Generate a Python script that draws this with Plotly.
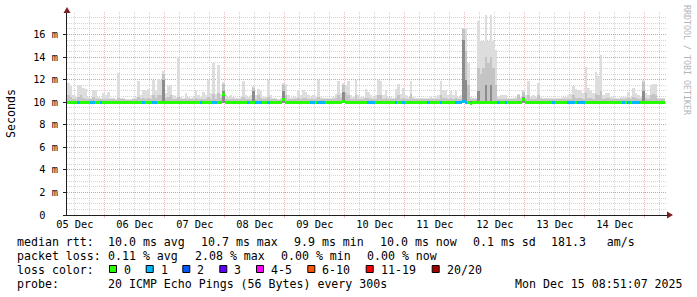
import plotly.graph_objects as go
import pandas as pd

# ---------------- data ----------------
bin_start = "2025-12-05 09:00"          # first hourly bin
x_range = ["2025-12-05 08:51:07", "2025-12-15 08:51:07"]

day_ticks = ["2025-12-%02d 12:00" % d for d in range(5, 15)]
day_labels = ["%02d Dec" % d for d in range(5, 15)]

y_tickvals = [0, 2, 4, 6, 8, 10, 12, 14, 16]
y_ticktext = ["0\u00a0\u00a0", "2 m", "4 m", "6 m", "8 m", "10 m", "12 m", "14 m", "16 m"]

# highest ping per bin (ms)
smoke_max = [
    11.7, 11.4, 10.6, 10.5, 11.5, 11.5, 11.3, 11.2, 10.5, 10.4,
    11.1, 11.1, 10.5, 10.4, 10.8, 10.6, 10.9, 10.4, 10.4, 10.3,
    12.6, 10.4, 10.4, 10.3, 10.3, 10.3, 10.4, 10.5, 11.9, 10.6,
    11.1, 11.0, 11.2, 10.6, 12.0, 11.0, 12.1, 12.0, 12.8, 10.8,
    11.4, 11.5, 10.6, 10.5, 14.0, 10.5, 10.4, 10.8, 10.5, 10.4,
    10.5, 11.1, 10.6, 10.5, 10.9, 10.6, 12.0, 10.8, 13.5, 10.7,
    13.3, 10.7, 11.8, 10.6, 10.5, 10.6, 10.5, 10.4, 10.4, 10.5,
    11.9, 10.6, 10.5, 10.6, 11.4, 10.6, 11.2, 11.0, 10.5, 10.5,
    12.0, 10.6, 10.4, 10.4, 10.3, 10.4, 11.7, 11.6, 10.6, 10.4,
    10.5, 10.5, 11.1, 10.6, 11.1, 10.9, 10.6, 10.5, 10.6, 10.5,
    12.0, 10.5, 10.4, 10.4, 10.4, 10.4, 10.5, 10.7, 11.9, 10.8,
    11.7, 11.5, 11.9, 10.6, 10.5, 12.0, 10.6, 10.5, 10.5, 11.2,
    10.9, 10.6, 10.5, 10.6, 12.0, 11.9, 10.6, 11.1, 10.5, 10.5,
    10.4, 11.2, 11.6, 10.7, 11.3, 10.6, 10.5, 11.9, 10.5, 10.4,
    10.4, 10.4, 10.4, 10.4, 10.4, 10.5, 10.4, 10.5, 10.6, 11.9,
    11.1, 11.1, 10.6, 11.0, 10.6, 11.0, 10.5, 10.6, 16.6, 16.6,
    13.5, 10.5, 10.4, 10.4, 17.2, 15.4, 15.4, 17.7, 15.4, 17.7,
    15.4, 14.6, 10.5, 10.6, 10.6, 10.6, 10.4, 10.4, 10.4, 10.5,
    10.7, 10.5, 11.1, 10.6, 11.9, 10.5, 10.6, 10.5, 11.7, 10.5,
    10.4, 10.4, 10.4, 10.4, 10.4, 10.4, 10.4, 10.4, 10.5, 10.5,
    10.6, 10.7, 11.4, 11.2, 11.1, 11.1, 10.8, 13.1, 11.3, 11.0,
    10.8, 12.7, 12.3, 14.2, 10.6, 10.8, 10.8, 10.5, 10.5, 10.4,
    10.4, 10.5, 10.5, 10.5, 10.9, 10.5, 11.3, 10.8, 10.6, 10.5,
    12.0, 10.8, 10.6, 11.5, 11.6, 11.6, 10.4, 10.4, 10.4,
]

# upper edge of the middle smoke band (ms)
smoke_mid = [
    10.6, 10.5, 10.3, 10.3, 10.5, 10.6, 10.4, 10.3, 10.3, 10.3,
    10.5, 10.3, 10.3, 10.3, 10.3, 10.3, 10.3, 10.3, 10.3, 10.2,
    10.4, 10.3, 10.3, 10.2, 10.2, 10.2, 10.3, 10.3, 10.5, 10.3,
    10.4, 10.3, 10.4, 10.3, 10.6, 10.4, 10.6, 10.6, 12.5, 10.4,
    10.5, 10.6, 10.3, 10.3, 10.5, 10.3, 10.3, 10.3, 10.3, 10.3,
    10.3, 10.4, 10.3, 10.3, 10.3, 10.3, 10.5, 10.3, 10.7, 10.3,
    10.8, 10.4, 11.6, 10.3, 10.3, 10.3, 10.3, 10.3, 10.3, 10.3,
    10.5, 10.3, 10.3, 10.3, 11.3, 10.3, 10.6, 10.4, 10.3, 10.3,
    10.5, 10.3, 10.3, 10.3, 10.2, 10.3, 11.5, 10.6, 10.3, 10.3,
    10.3, 10.3, 10.4, 10.3, 10.4, 10.4, 10.3, 10.3, 10.3, 10.3,
    10.5, 10.3, 10.3, 10.3, 10.3, 10.3, 10.3, 10.4, 10.6, 10.4,
    11.5, 10.8, 10.6, 10.3, 10.3, 10.6, 10.3, 10.3, 10.3, 10.4,
    10.4, 10.3, 10.3, 10.3, 10.6, 10.6, 10.3, 10.4, 10.3, 10.3,
    10.3, 10.4, 10.6, 10.3, 10.4, 10.3, 10.3, 10.7, 10.3, 10.3,
    10.3, 10.3, 10.3, 10.3, 10.3, 10.3, 10.3, 10.3, 10.3, 10.6,
    10.4, 10.4, 10.3, 10.4, 10.3, 10.4, 10.3, 10.3, 16.5, 14.5,
    11.5, 10.3, 10.3, 10.3, 13.0, 12.5, 13.0, 14.0, 13.5, 14.0,
    13.0, 11.5, 10.3, 10.3, 10.3, 10.3, 10.3, 10.3, 10.3, 10.3,
    10.6, 10.3, 10.9, 10.3, 10.6, 10.3, 10.3, 10.3, 10.6, 10.3,
    10.3, 10.3, 10.3, 10.3, 10.3, 10.3, 10.3, 10.3, 10.3, 10.3,
    10.3, 10.3, 10.6, 10.4, 10.4, 10.4, 10.3, 10.8, 10.4, 10.4,
    10.3, 10.7, 10.6, 11.0, 10.3, 10.4, 10.4, 10.3, 10.3, 10.3,
    10.3, 10.3, 10.3, 10.3, 10.4, 10.3, 10.5, 10.4, 10.3, 10.3,
    11.8, 10.4, 10.3, 10.6, 10.7, 10.6, 10.3, 10.3, 10.3,
]

# upper edge of the dark inner smoke band (ms)
smoke_inner = [
    10.1, 10.1, 10.1, 10.1, 10.1, 10.1, 10.1, 10.1, 10.1, 10.1,
    10.1, 10.1, 10.1, 10.1, 10.1, 10.1, 10.1, 10.1, 10.1, 10.1,
    10.1, 10.1, 10.1, 10.1, 10.1, 10.1, 10.1, 10.1, 10.1, 10.1,
    10.1, 10.1, 10.1, 10.1, 10.1, 10.1, 10.1, 10.1, 12.0, 10.1,
    10.1, 10.1, 10.1, 10.1, 10.1, 10.1, 10.1, 10.1, 10.1, 10.1,
    10.1, 10.1, 10.1, 10.1, 10.1, 10.1, 10.1, 10.1, 10.1, 10.1,
    10.1, 10.1, 11.0, 10.1, 10.1, 10.1, 10.1, 10.1, 10.1, 10.1,
    10.1, 10.1, 10.1, 10.1, 11.0, 10.1, 10.1, 10.1, 10.1, 10.1,
    10.1, 10.1, 10.1, 10.1, 10.1, 10.1, 11.0, 10.1, 10.1, 10.1,
    10.1, 10.1, 10.1, 10.1, 10.1, 10.1, 10.1, 10.1, 10.1, 10.1,
    10.1, 10.1, 10.1, 10.1, 10.1, 10.1, 10.1, 10.1, 10.1, 10.1,
    10.9, 10.1, 10.1, 10.1, 10.1, 10.1, 10.1, 10.1, 10.1, 10.1,
    10.1, 10.1, 10.1, 10.1, 10.1, 10.1, 10.1, 10.1, 10.1, 10.1,
    10.1, 10.1, 10.1, 10.1, 10.1, 10.1, 10.1, 10.1, 10.1, 10.1,
    10.1, 10.1, 10.1, 10.1, 10.1, 10.1, 10.1, 10.1, 10.1, 10.1,
    10.1, 10.1, 10.1, 10.1, 10.1, 10.1, 10.1, 10.1, 15.5, 12.0,
    10.1, 10.1, 10.1, 10.1, 11.0, 10.1, 10.1, 11.5, 10.1, 11.5,
    10.1, 10.1, 10.1, 10.1, 10.1, 10.1, 10.1, 10.1, 10.1, 10.1,
    10.1, 10.1, 10.5, 10.1, 10.1, 10.1, 10.1, 10.1, 10.1, 10.1,
    10.1, 10.1, 10.1, 10.1, 10.1, 10.1, 10.1, 10.1, 10.1, 10.1,
    10.1, 10.1, 10.1, 10.1, 10.1, 10.1, 10.1, 10.1, 10.1, 10.1,
    10.1, 10.1, 10.1, 10.1, 10.1, 10.1, 10.1, 10.1, 10.1, 10.1,
    10.1, 10.1, 10.1, 10.1, 10.1, 10.1, 10.1, 10.1, 10.1, 10.1,
    11.0, 10.1, 10.1, 10.1, 10.1, 10.1, 10.1, 10.1, 10.1,
]

# lowest ping per bin (ms)
smoke_min = [
    9.9, 9.9, 9.9, 9.9, 9.9, 9.9, 9.9, 9.9, 9.9, 9.9,
    9.9, 9.9, 9.9, 9.9, 9.9, 9.9, 9.9, 9.9, 9.9, 9.9,
    9.9, 9.9, 9.9, 9.9, 9.9, 9.9, 9.9, 9.9, 9.9, 9.9,
    9.9, 9.9, 9.9, 9.9, 9.9, 9.9, 9.9, 9.9, 9.9, 9.9,
    9.9, 9.9, 9.9, 9.9, 9.9, 9.9, 9.9, 9.9, 9.9, 9.9,
    9.9, 9.9, 9.9, 9.9, 9.9, 9.9, 9.9, 9.9, 9.9, 9.9,
    9.9, 9.9, 9.9, 9.9, 9.9, 9.9, 9.9, 9.9, 9.9, 9.9,
    9.9, 9.9, 9.9, 9.9, 9.9, 9.9, 9.9, 9.9, 9.9, 9.9,
    9.9, 9.9, 9.9, 9.9, 9.9, 9.9, 9.9, 9.9, 9.9, 9.9,
    9.9, 9.9, 9.9, 9.9, 9.9, 9.9, 9.9, 9.9, 9.9, 9.9,
    9.9, 9.9, 9.9, 9.9, 9.9, 9.9, 9.9, 9.9, 9.9, 9.9,
    9.9, 9.9, 9.9, 9.9, 9.9, 9.9, 9.9, 9.9, 9.9, 9.9,
    9.9, 9.9, 9.9, 9.9, 9.9, 9.9, 9.9, 9.9, 9.9, 9.9,
    9.9, 9.9, 9.9, 9.9, 9.9, 9.9, 9.9, 9.9, 9.9, 9.9,
    9.9, 9.9, 9.9, 9.9, 9.9, 9.9, 9.9, 9.9, 9.9, 9.9,
    9.9, 9.9, 9.9, 9.9, 9.9, 9.9, 9.9, 9.9, 9.9, 9.9,
    9.9, 9.8, 9.9, 9.9, 9.9, 9.9, 9.9, 9.9, 9.9, 9.9,
    9.9, 9.9, 9.9, 9.9, 9.9, 9.9, 9.9, 9.9, 9.9, 9.9,
    9.9, 9.9, 9.9, 9.9, 9.9, 9.9, 9.9, 9.9, 9.9, 9.9,
    9.9, 9.9, 9.9, 9.9, 9.9, 9.9, 9.9, 9.9, 9.9, 9.9,
    9.9, 9.9, 9.9, 9.9, 9.9, 9.9, 9.9, 9.9, 9.9, 9.9,
    9.9, 9.9, 9.9, 9.9, 9.9, 9.9, 9.9, 9.9, 9.9, 9.9,
    9.9, 9.9, 9.9, 9.9, 9.9, 9.9, 9.9, 9.9, 9.9, 9.9,
    9.9, 9.9, 9.9, 9.9, 9.9, 9.9, 9.9, 9.9, 9.9,
]

median = [
    10.0, 10.0, 10.0, 10.0, 10.0, 10.0, 10.0, 10.0, 10.0, 10.0,
    10.0, 10.0, 10.0, 10.0, 10.0, 10.0, 10.0, 10.0, 10.0, 10.0,
    10.0, 10.0, 10.0, 10.0, 10.0, 10.0, 10.0, 10.0, 10.0, 10.0,
    10.0, 10.0, 10.0, 10.0, 10.0, 10.0, 10.0, 10.0, 10.0, 10.0,
    10.0, 10.0, 10.0, 10.0, 10.0, 10.0, 10.0, 10.0, 10.0, 10.0,
    10.0, 10.0, 10.0, 10.0, 10.0, 10.0, 10.0, 10.0, 10.0, 10.0,
    10.0, 10.0, 10.7, 10.0, 10.0, 10.0, 10.0, 10.0, 10.0, 10.0,
    10.0, 10.0, 10.0, 10.0, 10.0, 10.0, 10.0, 10.0, 10.0, 10.0,
    10.0, 10.0, 10.0, 10.0, 10.0, 10.0, 10.25, 10.0, 10.0, 10.0,
    10.0, 10.0, 10.0, 10.0, 10.0, 10.0, 10.0, 10.0, 10.0, 10.0,
    10.0, 10.0, 10.0, 10.0, 10.0, 10.0, 10.0, 10.0, 10.0, 10.0,
    10.1, 10.0, 10.0, 10.0, 10.0, 10.0, 10.0, 10.0, 10.0, 10.0,
    10.0, 10.0, 10.0, 10.0, 10.0, 10.0, 10.0, 10.0, 10.0, 10.0,
    10.0, 10.0, 10.0, 10.0, 10.0, 10.0, 10.0, 10.0, 10.0, 10.0,
    10.0, 10.0, 10.0, 10.0, 10.0, 10.0, 10.0, 10.0, 10.0, 10.0,
    10.0, 10.0, 10.0, 10.0, 10.0, 10.0, 10.0, 10.0, 10.05, 10.0,
    10.0, 9.9, 10.0, 10.0, 10.0, 10.0, 10.0, 10.0, 10.0, 10.0,
    10.0, 10.0, 10.0, 10.0, 10.0, 10.0, 10.0, 10.0, 10.0, 10.0,
    10.0, 10.0, 10.25, 10.0, 10.0, 10.0, 10.0, 10.0, 10.0, 10.0,
    10.0, 10.0, 10.0, 10.0, 10.0, 10.0, 10.0, 10.0, 10.0, 10.0,
    10.0, 10.0, 10.0, 10.0, 10.0, 10.0, 10.0, 10.0, 10.0, 10.0,
    10.0, 10.0, 10.0, 10.0, 10.0, 10.0, 10.0, 10.0, 10.0, 10.0,
    10.0, 10.0, 10.0, 10.0, 10.0, 10.0, 10.0, 10.0, 10.0, 10.0,
    10.0, 10.0, 10.0, 10.0, 10.0, 10.0, 10.0, 10.0, 10.0,
]

# pings lost (of 20) per bin
loss = [
    0, 0, 0, 0, 1, 0, 0, 0, 0, 1,
    1, 0, 0, 1, 0, 0, 0, 0, 0, 0,
    0, 0, 0, 0, 0, 0, 0, 0, 0, 0,
    1, 0, 0, 0, 1, 1, 0, 0, 0, 0,
    0, 0, 0, 0, 0, 0, 0, 0, 0, 0,
    0, 0, 0, 1, 0, 0, 0, 0, 1, 1,
    0, 0, 0, 0, 0, 0, 0, 0, 0, 0,
    0, 0, 1, 0, 0, 1, 1, 1, 0, 0,
    1, 0, 0, 0, 0, 0, 0, 0, 0, 0,
    0, 0, 0, 0, 0, 0, 0, 1, 1, 0,
    1, 1, 1, 0, 0, 0, 0, 0, 0, 0,
    0, 0, 0, 0, 0, 0, 0, 0, 0, 0,
    1, 1, 1, 0, 0, 0, 0, 0, 0, 0,
    0, 1, 0, 0, 1, 0, 0, 0, 0, 0,
    0, 0, 0, 0, 1, 0, 0, 0, 0, 1,
    0, 0, 0, 0, 0, 1, 1, 1, 1, 1,
    0, 0, 0, 0, 0, 0, 0, 0, 0, 0,
    0, 0, 1, 0, 0, 1, 0, 0, 0, 0,
    0, 0, 0, 0, 0, 0, 0, 0, 0, 0,
    0, 0, 0, 0, 1, 0, 0, 0, 0, 0,
    1, 1, 1, 0, 1, 1, 1, 0, 0, 0,
    0, 0, 0, 0, 0, 0, 0, 0, 0, 0,
    0, 0, 1, 0, 1, 0, 1, 1, 1, 0,
    0, 0, 0, 0, 0, 0, 0, 0, 0,
]

loss_legend = ["0", "1", "2", "3", "4-5", "6-10", "11-19", "20/20"]
loss_palette = ["#26ff00", "#00b8ff", "#0059ff", "#5e00ff", "#ff00ff", "#ff5500", "#ff0000", "#a00000"]

stats_rtt = ["10.0 ms avg", "10.7 ms max", "9.9 ms min", "10.0 ms now", "0.1 ms sd", "181.3   am/s"]
stats_loss = ["0.11 % avg", "2.08 % max", "0.00 % min", "0.00 % now"]
probe_text = "20 ICMP Echo Pings (56 Bytes) every 300s"
stamp_text = "Mon Dec 15 08:51:07 2025"

# ---------------- geometry ----------------
W, H = 697, 297
PL, PR, PT, PB = 67, 667, 12, 215
MONO = "DejaVu Sans Mono"


def px(x):
    return (x - PL) / (PR - PL)


def py(y):
    return (PB - y) / (PB - PT)


n = len(smoke_max)
t0 = pd.Timestamp(bin_start)
times = [t0 + pd.Timedelta(minutes=30 + 60 * i) for i in range(n)]
bw = 3600 * 1000


def loss_index(v):
    if v <= 0:
        return 0
    if v <= 3:
        return v
    if v <= 5:
        return 4
    if v <= 10:
        return 5
    if v <= 19:
        return 6
    return 7


fig = go.Figure()


def band(lo, hi, color, axis="x"):
    fig.add_trace(go.Bar(
        x=times, base=lo, y=[h - l for l, h in zip(lo, hi)], width=bw,
        marker=dict(color=color, line=dict(width=0)), xaxis=axis, yaxis="y",
        showlegend=False, hoverinfo="skip"))


band(smoke_min, smoke_max, "#dddddd")
band(smoke_min, smoke_mid, "#c4c4c4")
band(smoke_min, smoke_inner, "#8c8c8c")

half = 0.13
fig.add_trace(go.Bar(
    x=times, base=[m - half for m in median], y=[2 * half] * n, width=bw,
    marker=dict(color=[loss_palette[loss_index(v)] for v in loss], line=dict(width=0)),
    xaxis="x2", yaxis="y", showlegend=False, hoverinfo="skip"))

grid_minor = "rgba(143,143,143,0.38)"
grid_major = "rgba(222,79,79,0.38)"
axis_col = "#1f1f1f"
arrow_col = "#801f1f"

fig.update_layout(
    width=W, height=H,
    margin=dict(l=PL, r=W - PR, t=PT, b=H - PB, pad=0),
    paper_bgcolor="white", plot_bgcolor="white",
    barmode="overlay", bargap=0,
    showlegend=False,
    font=dict(family=MONO, size=10.3, color="black"),
    xaxis=dict(
        type="date", range=x_range, tickmode="array", tickvals=day_ticks, ticktext=day_labels,
        showgrid=False, zeroline=False, showline=True, linecolor=axis_col, linewidth=1,
        ticks="", tickfont=dict(family=MONO, size=10.3, color="black"), fixedrange=True,
    ),
    xaxis2=dict(
        type="date", range=x_range, overlaying="x", side="bottom", matches="x",
        tick0="2025-12-05 00:00", dtick=86400000, showticklabels=False,
        showgrid=True, gridcolor=grid_major, griddash="1px,1px", gridwidth=1,
        ticks="outside", ticklen=2, tickcolor=grid_major,
        minor=dict(dtick=21600000, tick0="2025-12-05 00:00", showgrid=True,
                   gridcolor=grid_minor, griddash="1px,1px", gridwidth=1, ticks=""),
        zeroline=False, showline=False,
    ),
    yaxis=dict(
        range=[0, 18], tickmode="array", tickvals=y_tickvals, ticktext=y_ticktext,
        showgrid=True, gridcolor=grid_major, griddash="1px,1px", gridwidth=1,
        minor=dict(dtick=0.5, tick0=0, showgrid=True, gridcolor=grid_minor,
                   griddash="1px,1px", gridwidth=1),
        zeroline=False, showline=True, linecolor=axis_col, linewidth=1,
        ticks="outside", ticklen=3, tickcolor=axis_col, ticklabelstandoff=3,
        tickfont=dict(family=MONO, size=10.3, color="black"), fixedrange=True,
    ),
)

shapes = []
# axis arrows
shapes.append(dict(type="path", xref="paper", yref="paper",
                   path="M %f %f L %f %f L %f %f Z" % (px(667), py(211.5), px(673), py(215), px(667), py(218.5)),
                   fillcolor=arrow_col, line=dict(color=arrow_col, width=0)))
shapes.append(dict(type="line", xref="paper", yref="paper", x0=px(667), x1=px(668), y0=py(215), y1=py(215),
                   line=dict(color=axis_col, width=1)))
shapes.append(dict(type="path", xref="paper", yref="paper",
                   path="M %f %f L %f %f L %f %f Z" % (px(63.5), py(13), px(67), py(7), px(70.5), py(13)),
                   fillcolor=arrow_col, line=dict(color=arrow_col, width=0)))

annotations = []


def text(x, y, s, size=11.6, color="black", anchor="left", angle=0, yanchor="middle"):
    annotations.append(dict(xref="paper", yref="paper", x=px(x), y=py(y), text=s.replace(" ", "\u00a0"),
                            showarrow=False, xanchor=anchor, yanchor=yanchor, textangle=angle,
                            borderpad=0, font=dict(family=MONO, size=size, color=color)))


# y-axis title and watermark
text(11, 114, "Seconds", size=11.6, anchor="center", angle=-90)
text(687, 60, "RRDTOOL / TOBI OETIKER", size=8.3, color="#b4b4b4", anchor="center", angle=90)

# legend lines
row1, row2, row3, row4 = 241.5, 255.5, 269.5, 283.5
text(16, row1, "median rtt:")
for xpos, s in zip([106.5, 199.5, 292.5, 378.5, 472, 550], stats_rtt):
    text(xpos - 7 if s.startswith("9.9") or s.startswith("0.1") else xpos, row1,
         (" " + s) if (s.startswith("9.9") or s.startswith("0.1")) else s)
text(16, row2, "packet loss:")
for xpos, s in zip([106.5, 193.5, 279.5, 365.5], stats_loss):
    text(xpos, row2, s)
text(16, row3, "loss color:")
box_x = [109, 145.7, 182.3, 219.3, 256, 307.3, 365.7, 431.7]
for bx, lbl, col in zip(box_x, loss_legend, loss_palette):
    shapes.append(dict(type="rect", xref="paper", yref="paper", x0=px(bx + 0.5), x1=px(bx + 7.5),
                       y0=py(265.5), y1=py(272.5), fillcolor=col, line=dict(color="black", width=1)))
    text(bx + 14, row3, lbl)
text(16, row4, "probe:")
text(106.5, row4, probe_text)
text(513.5, row4, stamp_text)

fig.update_layout(shapes=shapes, annotations=annotations)
fig.write_html("out.html")
